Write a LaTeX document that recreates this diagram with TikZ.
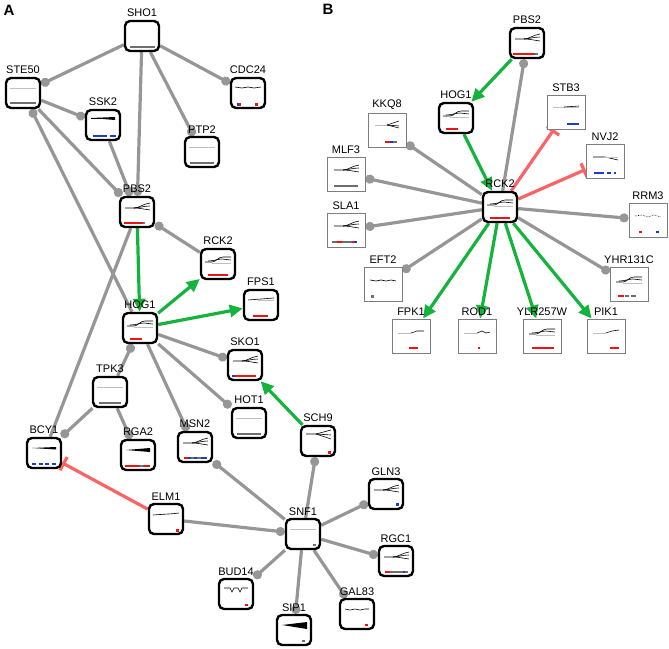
\documentclass[tikz,border=0pt]{standalone}
\usepackage{fontspec}
\setsansfont{Liberation Sans}
\usetikzlibrary{arrows.meta,positioning}

\definecolor{edgegrey}{RGB}{150,150,150}
\definecolor{actgreen}{RGB}{20,180,60}
\definecolor{inhred}{RGB}{250,100,100}
\definecolor{barred}{RGB}{235,20,20}
\definecolor{barblue}{RGB}{30,60,200}
\definecolor{bargrey}{RGB}{110,110,110}
\definecolor{bartea}{RGB}{40,150,170}
\definecolor{boxgrey}{RGB}{125,125,125}

\pgfdeclarelayer{edges}
\pgfsetlayers{edges,main}

% content drawn inside a gene box, local coords round its centre
\newcommand{\inbox}[2]{\begin{scope}[shift={(#1.center)}]#2\end{scope}}
\newcommand{\fanlines}[1]{\inbox{#1}{%
  \draw[trace] (-12,-4) -- (-3,-4) .. controls (2,-4) and (6,-8) .. (13,-9);
  \draw[trace] (-3,-4) .. controls (2,-4) and (6,-6) .. (13,-6);
  \draw[trace] (-3,-4) .. controls (2,-4) and (6,-3) .. (13,-2);}}
\newcommand{\riselines}[1]{\inbox{#1}{%
  \draw[trace] (-13,-2) -- (-6,-2) .. controls (-2,-2) and (0,-7) .. (5,-7) -- (13,-7);
  \draw[trace] (-10,-3) .. controls (-4,-3) and (0,-5) .. (4,-5) -- (13,-4);
  \draw[faint] (-6,-1) -- (13,-1);}}
\newcommand{\flatline}[2]{\inbox{#1}{\draw[#2] (-13,-5) -- (13,-5);}}

\tikzset{
  gene/.style={draw=black, line width=2.4pt, rounded corners=5pt, fill=white,
    minimum width=34pt, minimum height=30pt, inner sep=0pt},
  hit/.style={draw=boxgrey, line width=1pt, fill=white,
    minimum width=38pt, minimum height=34pt, inner sep=0pt},
  every label/.style={font=\sffamily\fontsize{11}{12}\selectfont, inner sep=0.5pt},
  tag/.style={font=\sffamily\bfseries\fontsize{15}{16}\selectfont},
  link/.style={draw=edgegrey, line width=3.2pt},
  dotend/.style={-{Circle[length=9pt,width=9pt]}},
  dotstart/.style={{Circle[length=9pt,width=9pt]}-},
  act/.style={draw=actgreen, line width=3.2pt, -{Triangle[length=13pt,width=12pt]}},
  inh/.style={draw=inhred, line width=3.2pt, -{Bar[width=15pt]}},
  trace/.style={draw=black, line width=0.6pt},
  faint/.style={draw=black!25, line width=0.6pt},
  lev/.style={line width=2.6pt}
}

\begin{document}
\begin{tikzpicture}[x=1pt,y=-1pt,label distance=2pt]
\useasboundingbox (0,0) rectangle (669,648);

\node[tag] (tagA) at (9,10) {A};
\node[tag] (tagB) at (328,9) {B};

% Panel A
\node[gene, label=above:SHO1]  (shoA) at (142,36) {};
\node[gene, label=above:STE50] (steA) at (23,93) {};
\node[gene, label=above:SSK2]  (sskA) at (103,125) {};
\node[gene, label=above:CDC24] (cdcA) at (248,93) {};
\node[gene, label=above:PTP2]  (ptpA) at (202,152) {};
\node[gene, label=above:PBS2]  (pbsA) at (137,212) {};
\node[gene, label=above:RCK2]  (rckA) at (218,264) {};
\node[gene, label=above:FPS1]  (fpsA) at (261,305) {};
\node[gene, label=above:HOG1]  (hogA) at (140,328) {};
\node[gene, label=above:SKO1]  (skoA) at (245,365) {};
\node[gene, label=above:TPK3]  (tpkA) at (110,392) {};
\node[gene, label=above:HOT1]  (hotA) at (249,423) {};
\node[gene, label=above:SCH9]  (schA) at (318,441) {};
\node[gene, label=above:BCY1]  (bcyA) at (44,453) {};
\node[gene, label=above:RGA2]  (rgaA) at (138,455) {};
\node[gene, label=above:MSN2]  (msnA) at (195,447) {};
\node[gene, label=above:ELM1]  (elmA) at (166,519) {};
\node[gene, label=above:SNF1]  (snfA) at (303,534) {};
\node[gene, label=above:GLN3]  (glnA) at (386,494) {};
\node[gene, label=above:RGC1]  (rgcA) at (396,561) {};
\node[gene, label=above:BUD14] (budA) at (236,594) {};
\node[gene, label=above:GAL83] (galA) at (357,614) {};
\node[gene, label=above:SIP1]  (sipA) at (294,630) {};

% Panel B
\node[gene, label=above:PBS2]    (pbsB) at (527,43) {};
\node[gene, label=above:HOG1]    (hogB) at (456,118) {};
\node[gene, label=above:RCK2]    (rckB) at (500,207) {};
\node[hit, label=above:KKQ8]     (kkqB) at (387,130) {};
\node[hit, label=above:STB3]     (stbB) at (566,112) {};
\node[hit, label=above:NVJ2]     (nvjB) at (605,161) {};
\node[hit, label=above:MLF3]     (mlfB) at (346,174) {};
\node[hit, label=above:SLA1]     (slaB) at (346,230) {};
\node[hit, label=above:RRM3]     (rrmB) at (648,220) {};
\node[hit, label=above:EFT2]     (eftB) at (383,284) {};
\node[hit, label=above:YHR131C]  (yhrB) at (629,284) {};
\node[hit, label=above:FPK1]     (fpkB) at (411,336) {};
\node[hit, label=above:ROD1]     (rodB) at (477,336) {};
\node[hit, label=above:YLR257W]  (ylrB) at (542,336) {};
\node[hit, label=above:PIK1]     (pikB) at (606,336) {};

\begin{pgfonlayer}{edges}
% Edges A
\draw[link, dotend] (shoA) -- (steA);
\draw[link, dotend] (shoA) -- (cdcA);
\draw[link, dotend] (shoA) -- (ptpA);
\draw[link, dotend] (shoA) -- (pbsA);
\draw[link, dotend] (steA) -- (sskA);
\draw[link, dotend] (steA) -- (pbsA);
\draw[link, dotstart] (steA) -- (hogA);
\draw[link, dotend] (sskA) -- (pbsA);
\draw[link] (pbsA) -- (bcyA);
\draw[link, dotstart] (pbsA) -- (rckA);
\draw[act] (pbsA) -- (hogA);
\draw[act] (hogA) -- (rckA);
\draw[act] (hogA) -- (fpsA);
\draw[link, dotend] (hogA) -- (skoA);
\draw[link, dotend] (hogA) -- (hotA);
\draw[link, dotend] (hogA) -- (msnA);
\draw[link, dotstart] (hogA) -- (tpkA);
\draw[link, dotend] (tpkA) -- (bcyA);
\draw[link, dotend] (tpkA) -- (rgaA);
\draw[act] (schA) -- (skoA);
\draw[inh] (elmA) -- (bcyA);
\draw[link, dotend] (snfA) -- (msnA);
\draw[link, dotend] (elmA) -- (snfA);
\draw[link, dotend] (snfA) -- (schA);
\draw[link, dotend] (snfA) -- (glnA);
\draw[link, dotend] (snfA) -- (rgcA);
\draw[link, dotend] (snfA) -- (budA);
\draw[link, dotend] (snfA) -- (galA);
\draw[link, dotend] (snfA) -- (sipA);

% Edges B
\draw[act] (pbsB) -- (hogB);
\draw[link, dotend] (rckB) -- (pbsB);
\draw[act] (hogB) -- (rckB);
\draw[inh] (rckB) -- (stbB);
\draw[inh] (rckB) -- (nvjB);
\draw[link, dotend] (rckB) -- (kkqB);
\draw[link, dotend] (rckB) -- (mlfB);
\draw[link, dotend] (rckB) -- (slaB);
\draw[link, dotend] (rckB) -- (rrmB);
\draw[link, dotend] (rckB) -- (eftB);
\draw[link, dotend] (rckB) -- (yhrB);
\draw[act] (rckB) -- (fpkB);
\draw[act] (rckB) -- (rodB);
\draw[act] (rckB) -- (ylrB);
\draw[act] (rckB) -- (pikB);
\end{pgfonlayer}

% box contents A
\inbox{shoA}{\draw[lev, bargrey] (-12,11) -- (13,11);}
\flatline{steA}{faint}
\inbox{steA}{\draw[lev, bargrey] (-13,10) -- (13,10);}
\inbox{sskA}{\fill (-12,-7) -- (12,-8) -- (12,-5) -- cycle;
  \draw[trace] (-12,-7) -- (12,-7);
  \draw[lev, barblue] (-10,11) -- (4,11); \draw[lev, barblue] (7,11) -- (13,11);}
\inbox{cdcA}{\draw[trace] (-13,-6) -- (-6,-5) -- (0,-6) -- (6,-5) -- (13,-6);
  \fill[barblue] (-11,9.5) rectangle (-9,12.5); \fill[barred] (-9,9.5) rectangle (-7,12.5);
  \fill[barred] (7,9.5) rectangle (9.5,12.5);}
\flatline{ptpA}{faint}
\inbox{ptpA}{\draw[lev, bargrey] (-12,11) -- (12,11);}
\fanlines{pbsA}
\inbox{pbsA}{\draw[lev, barred] (-13,11) -- (6,11); \draw[lev, bartea] (6,11) -- (8,11);}
\riselines{rckA}
\inbox{rckA}{\draw[lev, barred] (-10,11) -- (10,11);}
\inbox{fpsA}{\draw[trace] (-13,-5) -- (0,-6) -- (13,-7); \draw[faint] (-3,-5) -- (13,-5);
  \draw[lev, barred] (-8,11) -- (7,11);}
\riselines{hogA}
\inbox{hogA}{\draw[lev, barred] (-10,11) -- (2,11);}
\fanlines{skoA}
\inbox{skoA}{\draw[lev, barblue] (-13,11) -- (-10,11); \draw[lev, barred] (-10,11) -- (11,11);}
\flatline{tpkA}{faint}
\inbox{tpkA}{\draw[lev, bargrey] (-11,11) -- (11,11);}
\flatline{hotA}{faint}
\inbox{hotA}{\draw[lev, bargrey] (-12,11) -- (12,11);}
\inbox{schA}{\draw[trace] (-12,-7) -- (-2,-7) -- (13,-11);
  \draw[trace] (-2,-7) -- (13,-6); \draw[trace] (-2,-7) -- (13,-2);
  \fill[barred] (10,9.5) rectangle (13,12.5);}
\inbox{bcyA}{\fill (-12,-5) -- (12,-6) -- (12,-3.5) -- cycle;
  \draw[lev, barblue, dash pattern=on 4pt off 2.5pt] (-12,11) -- (13,11);}
\inbox{rgaA}{\fill (-12,-5) -- (12,-7) -- (12,-3) -- cycle;
  \draw[lev, barred] (-13,11) -- (2,11); \draw[lev, bartea] (2,11) -- (5,11);
  \draw[lev, barred] (5,11) -- (12,11);}
\fanlines{msnA}
\inbox{msnA}{\draw[lev, barred] (-11,11) -- (-7,11); \draw[lev, barblue] (-7,11) -- (-4,11);
  \draw[lev, bargrey] (-4,11) -- (-1,11); \draw[lev, barblue] (-1,11) -- (2,11);
  \draw[lev, bargrey] (2,11) -- (6,11); \draw[lev, barblue] (6,11) -- (12,11);}
\inbox{elmA}{\draw[trace] (-13,-4) .. controls (0,-5) and (6,-5) .. (13,-6);
  \fill[barred] (10,9.5) rectangle (13,12.5);}
\flatline{snfA}{faint}
\inbox{snfA}{\fill[bargrey] (10,9.5) rectangle (12.5,12);}
\fanlines{glnA}
\inbox{glnA}{\fill[barblue] (10,9) rectangle (12.5,11.5);}
\fanlines{rgcA}
\inbox{rgcA}{\draw[lev, barred] (-11,11) -- (-6,11); \draw[lev, bargrey] (-6,11) -- (7,11);
  \draw[lev, barblue] (7,11) -- (9,11); \draw[lev, bargrey] (9,11) -- (12,11);}
\inbox{budA}{\draw[trace] (-12,-6) -- (-6,-6) -- (-4,-2) -- (-2,-6) -- (2,-6) -- (4,-2)
  -- (6,-6) -- (12,-6);
  \fill[barred] (9,9.5) rectangle (11.5,12);}
\inbox{galA}{\draw[trace] (-12,-5) -- (-7,-4) -- (-2,-5) -- (3,-4) -- (8,-5) -- (12,-5);
  \fill[barred] (8,9.5) rectangle (10.5,12);}
\inbox{sipA}{\fill (-12,-5) -- (13,-8) -- (13,-1) -- cycle;
  \fill[bargrey] (8,9.5) rectangle (10.5,12);}

% box contents B
\fanlines{pbsB}
\inbox{pbsB}{\draw[lev, barred] (-14,11) -- (8,11); \draw[lev, bartea] (8,11) -- (11,11);}
\riselines{hogB}
\inbox{hogB}{\draw[lev, barred] (-10,11) -- (2,11);}
\inbox{kkqB}{\draw[faint] (-12,-5) -- (0,-5); \draw[trace] (0,-5) -- (12,-9);
  \draw[trace] (0,-5) -- (12,-4); \draw[trace] (0,-5) -- (12,-2);
  \draw[lev, barred] (-2,12) -- (3,12); \draw[lev, barblue] (3,12) -- (6,12);
  \draw[lev, bargrey] (6,12) -- (10,12);}
\inbox{stbB}{\draw[faint] (-13,-5) -- (13,-5); \draw[trace] (-2,-5) -- (13,-6);
  \draw[lev, barblue] (1,12) -- (13,12);}
\inbox{nvjB}{\draw[trace] (-12,-4) -- (0,-4) -- (13,-1); \draw[faint] (-2,-4) -- (13,-4);
  \draw[lev, barblue] (-11,12) -- (-1,12); \draw[lev, barblue] (2,12) -- (6,12);
  \draw[lev, barblue] (9,12) -- (11,12);}
\fanlines{mlfB}
\inbox{mlfB}{\draw[lev, bargrey] (-12,12) -- (12,12);}
\riselines{rckB}
\inbox{rckB}{\draw[lev, barred] (-10,11) -- (10,11);}
\fanlines{slaB}
\inbox{slaB}{\draw[lev, bargrey] (-14,12) -- (-9,12); \draw[lev, barred] (-9,12) -- (-4,12);
  \draw[lev, bargrey] (-4,12) -- (6,12); \draw[lev, barred] (6,12) -- (8,12);
  \draw[lev, barblue] (8,12) -- (11,12);}
\inbox{rrmB}{\draw[trace, densely dotted] (-13,-4) -- (-6,-5) -- (0,-3) -- (6,-5) -- (13,-3);
  \fill[barred] (-9,10.5) rectangle (-6.5,13); \fill[barblue] (8,10.5) rectangle (10.5,13);}
\inbox{eftB}{\draw[trace] (-13,-4) -- (-7,-3) -- (-2,-4) -- (3,-3) -- (8,-4) -- (13,-3);
  \fill[bargrey] (-12,11) rectangle (-9.5,13.5);}
\riselines{yhrB}
\inbox{yhrB}{\draw[lev, barred] (-11,12) -- (-5,12); \draw[lev, bargrey] (-4,12) -- (0,12);
  \draw[lev, bargrey] (2,12) -- (7,12);}
\inbox{fpkB}{\draw[faint] (-13,-3) -- (0,-3); \draw[trace] (0,-3) -- (6,-5) -- (13,-5);
  \draw[lev, barred] (-2,12) -- (7,12);}
\inbox{rodB}{\draw[faint] (-13,-3) -- (0,-3); \draw[trace] (0,-3) -- (5,-5) -- (9,-3) -- (13,-4);
  \fill[barred] (0.5,10.5) rectangle (3,13);}
\riselines{ylrB}
\inbox{ylrB}{\draw[lev, barred] (-10,12) -- (12,12);}
\inbox{pikB}{\draw[faint] (-13,-3) -- (0,-3); \draw[trace] (0,-3) -- (6,-5) -- (13,-6);
  \draw[lev, barred] (4,12) -- (13,12);}
\end{tikzpicture}
\end{document}
